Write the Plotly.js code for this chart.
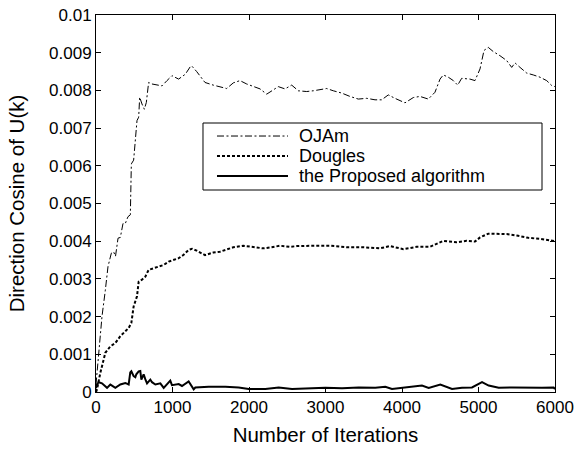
<!DOCTYPE html>
<html>
<head>
<meta charset="utf-8">
<script src="https://cdn.plot.ly/plotly-3.0.1.min.js"></script>
<style>
  html, body { margin: 0; padding: 0; background: #fff; }
  #chart { width: 580px; height: 449px; }
</style>
</head>
<body>
<div id="chart"></div>
<script>
// Direction cosine of U(k) versus iteration count for three algorithms.

const ojamIter = [0, 35, 78, 122, 157, 200, 230, 255, 288, 318, 353, 383, 418, 449, 462, 492, 536, 558, 571, 601, 632, 658, 688, 732, 797, 863, 928, 993, 1080, 1168, 1233, 1251, 1316, 1425, 1533, 1621, 1708, 1795, 1882, 1970, 2056, 2144, 2231, 2296, 2383, 2470, 2558, 2645, 2754, 2841, 2928, 3016, 3102, 3211, 3320, 3429, 3538, 3647, 3734, 3821, 3908, 4039, 4148, 4235, 4344, 4431, 4497, 4540, 4605, 4671, 4728, 4780, 4889, 4954, 5020, 5072, 5128, 5193, 5281, 5369, 5434, 5477, 5543, 5630, 5716, 5804, 5891, 5957, 6000];
const ojamCos = [0.0002, 0.00104, 0.0020, 0.0027, 0.00333, 0.00368, 0.00372, 0.0036, 0.00408, 0.0041, 0.00447, 0.00447, 0.00465, 0.0047, 0.00605, 0.00615, 0.0072, 0.00729, 0.00782, 0.00764, 0.0075, 0.00768, 0.00821, 0.00817, 0.00815, 0.00812, 0.00826, 0.00839, 0.0083, 0.00843, 0.00863, 0.00865, 0.0085, 0.00821, 0.00814, 0.0081, 0.00805, 0.0082, 0.00826, 0.00817, 0.0081, 0.00804, 0.0079, 0.00799, 0.0081, 0.00804, 0.00814, 0.00799, 0.00797, 0.00799, 0.00802, 0.00805, 0.00799, 0.00793, 0.00784, 0.00777, 0.00779, 0.00775, 0.00775, 0.00788, 0.00779, 0.00767, 0.00781, 0.00784, 0.00777, 0.00795, 0.0083, 0.00841, 0.00835, 0.00826, 0.00814, 0.00832, 0.0083, 0.00826, 0.00857, 0.00906, 0.00914, 0.00903, 0.00892, 0.00879, 0.00861, 0.00873, 0.00861, 0.00846, 0.00841, 0.00835, 0.00826, 0.00813, 0.0081];

const douglesIter = [0, 13, 57, 122, 187, 253, 318, 383, 427, 462, 492, 536, 558, 601, 645, 688, 754, 819, 885, 950, 1015, 1081, 1146, 1211, 1255, 1316, 1425, 1533, 1621, 1708, 1795, 1926, 2056, 2187, 2296, 2405, 2536, 2623, 2841, 3059, 3277, 3494, 3712, 3843, 4017, 4192, 4366, 4540, 4715, 4846, 4954, 5020, 5128, 5237, 5369, 5500, 5652, 5804, 6000];
const douglesCos = [0.0, 0.00007, 0.00051, 0.00104, 0.00121, 0.0013, 0.00148, 0.00161, 0.0017, 0.00183, 0.00227, 0.00254, 0.00293, 0.00298, 0.00306, 0.00324, 0.00328, 0.00331, 0.00337, 0.00346, 0.0035, 0.00355, 0.00364, 0.00377, 0.0038, 0.00375, 0.00363, 0.0037, 0.00372, 0.00379, 0.00384, 0.00388, 0.00385, 0.00381, 0.00384, 0.00388, 0.00385, 0.00387, 0.00388, 0.00388, 0.00384, 0.00384, 0.00381, 0.00387, 0.00379, 0.00385, 0.00385, 0.00401, 0.00397, 0.00401, 0.00399, 0.0041, 0.0042, 0.0042, 0.00419, 0.00415, 0.00409, 0.00406, 0.0040];

const proposedIter = [0, 13, 35, 78, 144, 187, 209, 253, 318, 383, 427, 448, 462, 492, 514, 527, 558, 579, 593, 623, 644, 667, 710, 732, 776, 819, 841, 885, 950, 971, 993, 1059, 1081, 1124, 1211, 1277, 1298, 1473, 1691, 1865, 1996, 2213, 2388, 2562, 2780, 2998, 3216, 3434, 3651, 3782, 3869, 4087, 4261, 4349, 4501, 4654, 4784, 4915, 5046, 5133, 5264, 5438, 5612, 5830, 5983, 6000];
const proposedCos = [0.0001, 0.0002, 0.00026, 0.00023, 0.00011, 0.0002, 0.00017, 0.00011, 0.0002, 0.00024, 0.0002, 0.00052, 0.00055, 0.00042, 0.00039, 0.00047, 0.00055, 0.00056, 0.00033, 0.00047, 0.00034, 0.00023, 0.00033, 0.00026, 0.0002, 0.00021, 0.00023, 0.00011, 0.00026, 0.0003, 0.00018, 0.0002, 0.00021, 0.00016, 0.00028, 0.00007, 0.00012, 0.00014, 0.00014, 0.00012, 0.00008, 0.00008, 0.00012, 0.00008, 0.0001, 0.00011, 0.0001, 0.00012, 0.00011, 0.00014, 0.00008, 0.00012, 0.00017, 0.00011, 0.0002, 0.00008, 0.00011, 0.00012, 0.00026, 0.00017, 0.00011, 0.00012, 0.00011, 0.00011, 0.00012, 0.00008];

const seriesNames = ['OJAm', 'Dougles', 'the Proposed algorithm'];

const xTickVals = [0, 1000, 2000, 3000, 4000, 5000, 6000];
const yTickVals = [0, 0.001, 0.002, 0.003, 0.004, 0.005, 0.006, 0.007, 0.008, 0.009, 0.01];
const yTickText = ['0', '0.001', '0.002', '0.003', '0.004', '0.005', '0.006', '0.007', '0.008', '0.009', '0.01'];

const FONT = '"Liberation Sans", Arial, Helvetica, sans-serif';

const lineStyles = [
  { color: '#000', width: 1, dash: '7px,2.5px,2px,2.5px' },
  { color: '#000', width: 2, dash: '3px,2px' },
  { color: '#000', width: 2, dash: 'solid' }
];

const traces = [
  { x: ojamIter, y: ojamCos, name: seriesNames[0], type: 'scatter', mode: 'lines', line: lineStyles[0] },
  { x: douglesIter, y: douglesCos, name: seriesNames[1], type: 'scatter', mode: 'lines', line: lineStyles[1] },
  { x: proposedIter, y: proposedCos, name: seriesNames[2], type: 'scatter', mode: 'lines', line: lineStyles[2] }
];

const axisCommon = {
  showgrid: false,
  zeroline: false,
  showline: true,
  linecolor: '#000',
  linewidth: 1,
  mirror: 'ticks',
  ticks: 'inside',
  ticklen: 5,
  tickcolor: '#000',
  tickfont: { family: FONT, size: 17, color: '#000' }
};

// Boxed legend inside the axes (paper coordinates).
const legendBox = { x0: 0.2331, x1: 0.9717, y0: 0.5358, y1: 0.7135 };
const legendRows = [0.6790, 0.6260, 0.5729];
const sampleX = [0.2636, 0.4183];
const labelX = 0.4379;

const shapes = [{
  type: 'rect', xref: 'paper', yref: 'paper',
  x0: legendBox.x0, x1: legendBox.x1, y0: legendBox.y0, y1: legendBox.y1,
  line: { color: '#000', width: 1 }, fillcolor: '#fff', layer: 'above'
}];
const annotations = [];
seriesNames.forEach(function (name, i) {
  shapes.push({
    type: 'line', xref: 'paper', yref: 'paper',
    x0: sampleX[0], x1: sampleX[1], y0: legendRows[i], y1: legendRows[i],
    line: lineStyles[i], layer: 'above'
  });
  annotations.push({
    xref: 'paper', yref: 'paper', x: labelX, y: legendRows[i],
    xanchor: 'left', yanchor: 'middle', showarrow: false,
    text: name, font: { family: FONT, size: 18, color: '#000' }
  });
});

const layout = {
  width: 580,
  height: 449,
  margin: { l: 96, r: 25, t: 15, b: 57 },
  paper_bgcolor: '#fff',
  plot_bgcolor: '#fff',
  font: { family: FONT, color: '#000' },
  showlegend: false,
  xaxis: Object.assign({}, axisCommon, {
    range: [0, 6000],
    tickvals: xTickVals,
    ticktext: xTickVals.map(String),
    title: { text: 'Number of Iterations', font: { family: FONT, size: 20.5, color: '#000' }, standoff: 11 }
  }),
  yaxis: Object.assign({}, axisCommon, {
    range: [0, 0.01],
    tickvals: yTickVals,
    ticktext: yTickText,
    title: { text: 'Direction Cosine of U(k)', font: { family: FONT, size: 20.5, color: '#000' }, standoff: 18 }
  }),
  shapes: shapes,
  annotations: annotations
};

Plotly.newPlot('chart', traces, layout, { displayModeBar: false, staticPlot: true });
</script>
</body>
</html>
